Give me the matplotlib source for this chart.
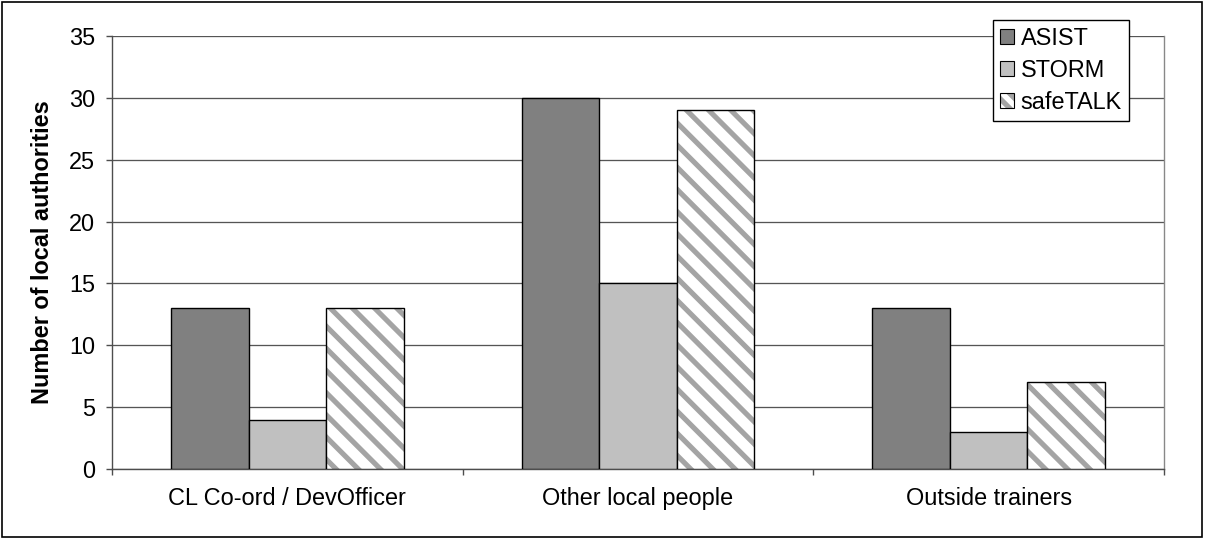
from matplotlib import pyplot as plt
from matplotlib.patches import Patch, Rectangle
import numpy as np

categories = ["CL Co-ord / DevOfficer", "Other local people", "Outside trainers"]
asist = [13, 30, 13]
storm = [4, 15, 3]
safetalk = [13, 29, 7]
series_names = ["ASIST", "STORM", "safeTALK"]
y_ticks = [0, 5, 10, 15, 20, 25, 30, 35]

plt.rcParams["font.family"] = ["Liberation Sans", "DejaVu Sans"]
plt.rcParams["hatch.linewidth"] = 2.8
plt.rcParams["hatch.color"] = "#a4a4a4"

# dpi chosen so the hatch stripe spacing matches the reference
DPI = 133
fig = plt.figure(figsize=(1207 / DPI, 539 / DPI), dpi=DPI)
ax = fig.add_axes([112 / 1207, 1 - 469 / 539, (1164 - 112) / 1207, (469 - 36) / 539])

x = np.arange(len(categories))
w = 0.221
axis_gray = "#4d4d4d"
fs = 12.7
lw = 0.75

ax.bar(x - w, asist, w, color="#808080", edgecolor="black", linewidth=lw, zorder=3)
ax.bar(x, storm, w, color="#c0c0c0", edgecolor="black", linewidth=lw, zorder=3)
# hatch drawn in gray, outline drawn separately in black
ax.bar(x + w, safetalk, w, color="white", edgecolor="#a4a4a4", hatch="\\\\",
       linewidth=0, zorder=3)
ax.bar(x + w, safetalk, w, fill=False, edgecolor="black", linewidth=lw, zorder=4)

ax.set_xlim(-0.5, 2.5)
ax.set_ylim(0, 35)
ax.set_yticks(y_ticks)
ax.set_xticks([-0.5, 0.5, 1.5, 2.5])
ax.set_xticklabels([])
ax.set_xticks(x, minor=True)
ax.set_xticklabels(categories, minor=True)
ax.tick_params(axis="x", which="minor", length=0, pad=9.5, labelsize=fs)
ax.tick_params(axis="x", which="major", length=3, width=lw, color=axis_gray)
ax.tick_params(axis="y", length=3, width=lw, color=axis_gray, labelsize=fs, pad=6)

ax.yaxis.grid(True, color="#555555", linewidth=0.7, zorder=0)
ax.set_axisbelow(True)
for side in ("left", "bottom"):
    ax.spines[side].set_color(axis_gray)
    ax.spines[side].set_linewidth(lw)
ax.spines["top"].set_visible(False)
ax.spines["right"].set_color("#888888")
ax.spines["right"].set_linewidth(lw)

ax.set_ylabel("Number of local authorities", fontsize=fs, fontweight="bold", labelpad=8)

handles = [
    Patch(facecolor="#808080", edgecolor="black", linewidth=0.6),
    Patch(facecolor="#c0c0c0", edgecolor="black", linewidth=0.6),
    (Patch(facecolor="white", edgecolor="#a4a4a4", hatch="\\\\\\", linewidth=0),
     Patch(fill=False, edgecolor="black", linewidth=0.6)),
]
leg = fig.legend(
    handles,
    series_names,
    loc="upper right",
    bbox_to_anchor=(1129 / 1207, 1 - 20 / 539),
    fontsize=fs,
    frameon=True,
    fancybox=False,
    shadow=False,
    handlelength=0.6,
    handleheight=0.6,
    handletextpad=0.3,
    labelspacing=0.38,
    borderpad=0.3,
    borderaxespad=0,
)
leg.get_frame().set_edgecolor("black")
leg.get_frame().set_linewidth(lw)
leg.get_frame().set_alpha(1)

fig.patches.append(Rectangle((2 / 1207, 2 / 539), 1200 / 1207, 535 / 539,
                             transform=fig.transFigure, fill=False,
                             edgecolor="black", linewidth=0.9))

fig.savefig("out.png", dpi=DPI)
